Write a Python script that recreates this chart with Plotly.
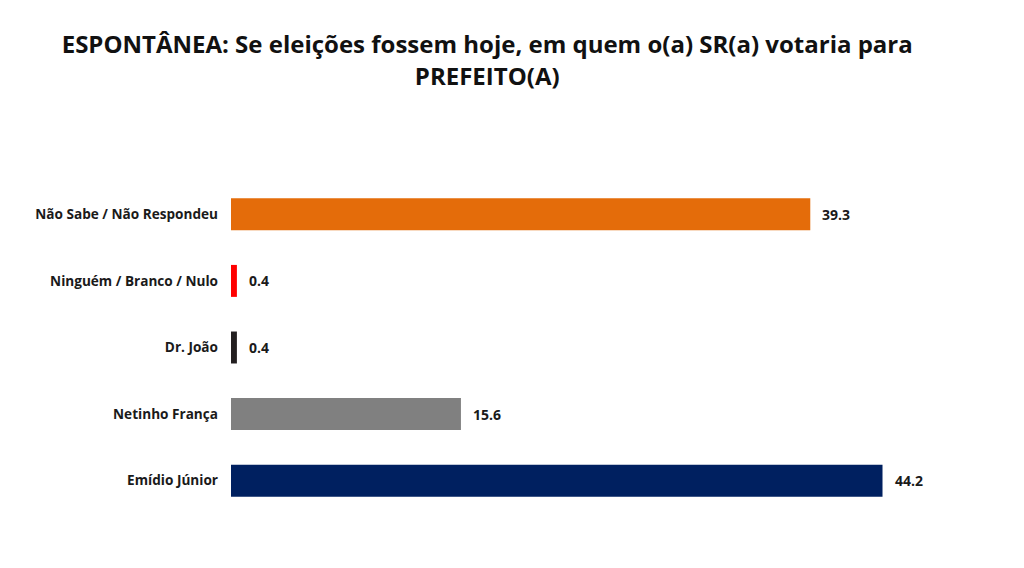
import plotly.graph_objects as go

categories = ["Não Sabe / Não Respondeu", "Ninguém / Branco / Nulo", "Dr. João", "Netinho França", "Emídio Júnior"]
values = [39.3, 0.4, 0.4, 15.6, 44.2]
colors = ["#E46C0A", "#FF0000", "#231F20", "#808080", "#002060"]
title_text = "<b>ESPONTÂNEA: Se eleições fossem hoje, em quem o(a) SR(a) votaria para<br>PREFEITO(A)</b>"

FONT = "Open Sans"

fig = go.Figure()
fig.add_trace(go.Bar(
    y=categories, x=values, orientation="h",
    marker=dict(color=colors, line=dict(width=0)),
    width=0.48,
    hoverinfo="skip",
))
for c, v in zip(categories, values):
    fig.add_annotation(x=v, y=c, text=f"<b>{v:.1f}</b>", showarrow=False,
                       xanchor="left", xshift=10,
                       font=dict(family=FONT, size=14, color="#1a1a1a"))

fig.update_layout(
    width=1024, height=568,
    paper_bgcolor="white", plot_bgcolor="white",
    margin=dict(l=223, r=64, t=173, b=62),
    showlegend=False,
    title=dict(text=title_text, x=0.468, xanchor="center", y=0.92, yanchor="top",
               font=dict(family=FONT, size=24, color="#111111")),
    bargap=0.5,
)
fig.update_xaxes(range=[0, 50], visible=False, fixedrange=True)
fig.update_yaxes(autorange="reversed", showgrid=False, showline=False, ticks="",
                 ticklabelstandoff=12,
                 tickfont=dict(family=FONT, size=13.6, color="#1a1a1a"),
                 tickprefix="<b>", ticksuffix="</b>")
fig.write_html("out.html")
